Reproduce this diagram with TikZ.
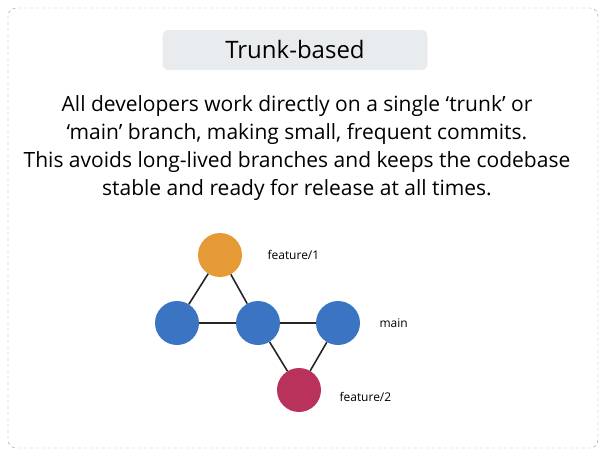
\documentclass[tikz,border=0pt]{standalone}
\usepackage{fontspec}
\setmainfont{Open Sans}
\definecolor{commitOrange}{HTML}{E69A35}
\definecolor{commitBlue}{HTML}{3B74C3}
\definecolor{commitRed}{HTML}{B8325C}
\definecolor{titleGray}{HTML}{E9ECEF}
\tikzstyle{commit} = [circle, minimum size=44pt, inner sep=0pt]
\tikzstyle{edge} = [line width=1.6pt, black!85]
\tikzstyle{tag} = [font=\fontsize{12}{14}\selectfont, anchor=west]

\begin{document}
\begin{tikzpicture}[x=1pt, y=-1pt]
\useasboundingbox (0,0) rectangle (606,456);

\draw[gray!80, dashed, rounded corners=8pt] (8,8) rectangle (598,448);
\node (titlebox) [fill=titleGray, rounded corners=6pt, minimum width=265pt, minimum height=40pt] at (295,50) {};
\node (title) at (295,49) {\fontsize{24}{28}\selectfont Trunk-based};

\node (body) [align=center, font=\fontsize{21}{28}\selectfont] at (297,148) {
All developers work directly on a single `trunk' or\\
`main' branch, making small, frequent commits.\\
This avoids long-lived branches and keeps the codebase\\
stable and ready for release at all times.
};

\node (f1) [commit, fill=commitOrange] at (220,255) {};
\node (m1) [commit, fill=commitBlue] at (177,323) {};
\node (m2) [commit, fill=commitBlue] at (258,323) {};
\node (m3) [commit, fill=commitBlue] at (338,323) {};
\node (f2) [commit, fill=commitRed] at (299,390) {};

\draw[edge] (f1) -- (m1);
\draw[edge] (f1) -- (m2);
\draw[edge] (m1) -- (m2);
\draw[edge] (m2) -- (m3);
\draw[edge] (m2) -- (f2);
\draw[edge] (m3) -- (f2);

\node (tf1) [tag] at (264,255) {feature/1};
\node (tmain) [tag] at (376,323) {main};
\node (tf2) [tag] at (336,397) {feature/2};

\end{tikzpicture}
\end{document}
